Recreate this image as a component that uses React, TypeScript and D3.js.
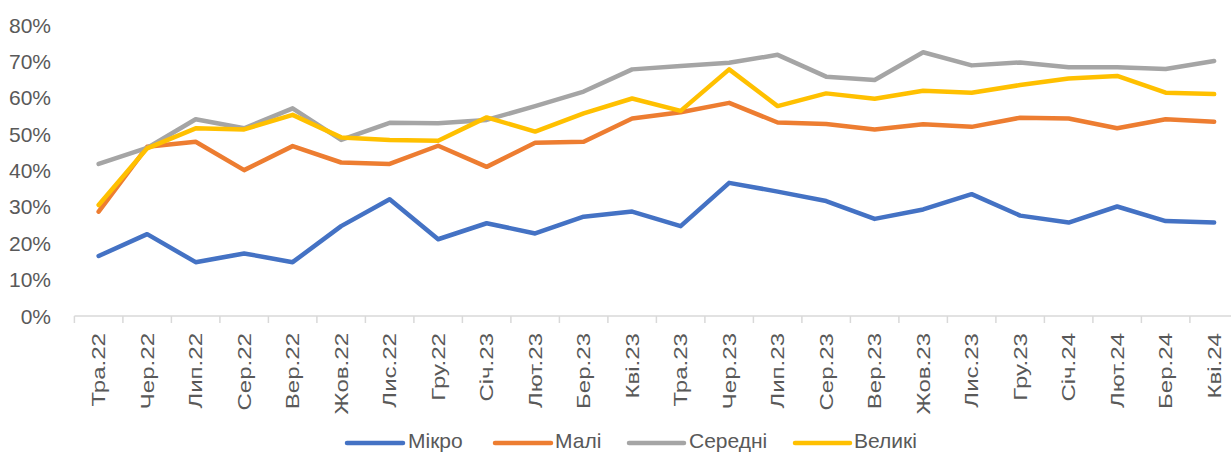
import React from "react";
import * as d3 from "d3";

const categories = [
  "Тра.22", "Чер.22", "Лип.22", "Сер.22", "Вер.22", "Жов.22", "Лис.22", "Гру.22",
  "Січ.23", "Лют.23", "Бер.23", "Кві.23", "Тра.23", "Чер.23", "Лип.23", "Сер.23",
  "Вер.23", "Жов.23", "Лис.23", "Гру.23", "Січ.24", "Лют.24", "Бер.24", "Кві.24",
];

const micro = [16.5, 22.5, 14.8, 17.2, 14.8, 24.7, 32.1, 21.1, 25.5, 22.7, 27.3, 28.7, 24.7, 36.6, 34.2, 31.6, 26.7, 29.3, 33.5, 27.6, 25.7, 30.1, 26.1, 25.7];
const small = [28.7, 46.5, 47.9, 40.1, 46.7, 42.2, 41.8, 46.8, 41.0, 47.6, 47.9, 54.3, 56.0, 58.6, 53.2, 52.8, 51.3, 52.7, 52.0, 54.5, 54.3, 51.6, 54.1, 53.4];
const medium = [41.8, 46.2, 54.1, 51.6, 57.1, 48.4, 53.1, 53.0, 53.9, 57.7, 61.7, 67.8, 68.7, 69.6, 71.8, 65.8, 64.9, 72.5, 68.9, 69.7, 68.4, 68.4, 67.9, 70.1];
const large = [30.5, 46.1, 51.6, 51.3, 55.3, 49.1, 48.4, 48.2, 54.6, 50.7, 55.7, 59.8, 56.4, 67.8, 57.7, 61.2, 59.7, 61.9, 61.4, 63.5, 65.3, 66.0, 61.4, 61.0];

const yTicks = [0, 10, 20, 30, 40, 50, 60, 70, 80];

const seriesNames = ["Мікро", "Малі", "Середні", "Великі"];
const seriesColors = ["#4472C4", "#ED7D31", "#A5A5A5", "#FFC000"];
const seriesData = [micro, small, medium, large];

const W = 1231;
const H = 453;
const FONT = "'Liberation Sans', Arial, sans-serif";
const TEXT = "#595959";

export default function App() {
  const x = d3.scaleBand<string>().domain(categories).range([74.4, 74.4 + 24 * 48.5]).padding(0);
  const y = d3.scaleLinear().domain([0, 80]).range([316, 25]);
  const bw = x.bandwidth();
  const cx = (c: string) => (x(c) as number) + bw / 2;

  const line = (vals: number[]) =>
    d3.line<number>()
      .x((_, i) => cx(categories[i]))
      .y((v) => y(v))(vals) as string;

  const boundaries = categories.map((c) => x(c) as number).concat([(x(categories[categories.length - 1]) as number) + bw]);

  const legendItems = [
    { x1: 347, x2: 403, tx: 408 },
    { x1: 495, x2: 551, tx: 555 },
    { x1: 629, x2: 684, tx: 689 },
    { x1: 795, x2: 850, tx: 854 },
  ];

  return (
    <svg width={W} height={H} style={{ position: "absolute", left: 0, top: 0, background: "#fff" }} fontFamily={FONT}>
      {yTicks.map((t) => (
        <text key={t} x={51} y={y(t)} dy="0.36em" textAnchor="end" fontSize={21} fill={TEXT}>
          {t}%
        </text>
      ))}
      <line x1={boundaries[0]} x2={W} y1={y(0)} y2={y(0)} stroke="#D9D9D9" strokeWidth={1.5} />
      {boundaries.map((b, i) => (
        <line key={i} x1={b} x2={b} y1={y(0)} y2={y(0) + 7} stroke="#D9D9D9" strokeWidth={1.5} />
      ))}
      {categories.map((c) => (
        <text
          key={c}
          transform={`translate(${cx(c)},333) rotate(-90) scale(1.3,1)`}
          dy="0.35em"
          textAnchor="end"
          fontSize={18.5}
          fill={TEXT}
        >
          {c}
        </text>
      ))}
      {seriesData.map((vals, i) => (
        <path
          key={seriesNames[i]}
          d={line(vals)}
          fill="none"
          stroke={seriesColors[i]}
          strokeWidth={4.5}
          strokeLinejoin="round"
          strokeLinecap="round"
        />
      ))}
      {legendItems.map((it, i) => (
        <g key={seriesNames[i]}>
          <line x1={it.x1} x2={it.x2} y1={443} y2={443} stroke={seriesColors[i]} strokeWidth={4.5} strokeLinecap="round" />
          <text x={it.tx} y={448} fontSize={21} fill={TEXT}>
            {seriesNames[i]}
          </text>
        </g>
      ))}
    </svg>
  );
}
